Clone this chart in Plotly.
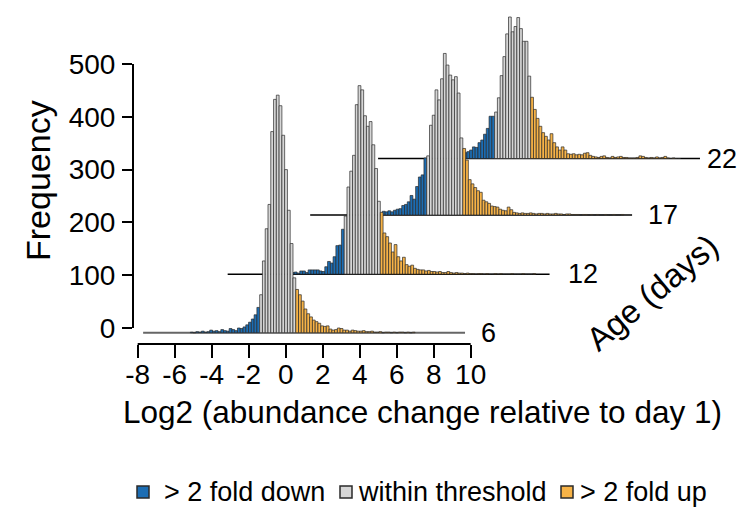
import plotly.graph_objects as go

# ---------------- data ----------------
days = ["6", "12", "17", "22"]
categories = ["> 2 fold down", "within threshold", "> 2 fold up"]
bin_width = 0.15  # log2 units

# counts per bin; "down" lists end at the -1 threshold, "up" lists start at +1
down_6 = [1, 0, 2, 1, 3, 1, 2, 5, 3, 4, 2, 6, 4, 3, 8, 6, 4, 9, 8, 11, 15, 20, 26, 34, 48]
within_6 = [72, 136, 197, 243, 381, 442, 450, 430, 374, 309, 232, 169, 104]
up_6 = [82, 72, 60, 45, 36, 30, 24, 21, 18, 13, 12, 13, 7, 5, 6, 9, 8, 5, 5, 3, 5, 4, 3, 3,
        4, 2, 2, 3, 1, 1, 2, 0, 1, 1, 0, 1, 0, 1, 1, 0, 1, 0, 1]

down_12 = [3, 4, 2, 6, 6, 3, 8, 8, 8, 8, 6, 5, 14, 24, 21, 33, 54, 55, 85]
within_12 = [110, 165, 195, 225, 321, 357, 349, 300, 280, 289, 245, 200, 138]
up_12 = [117, 78, 71, 59, 42, 56, 33, 25, 32, 18, 15, 17, 11, 9, 8, 8, 6, 7, 5, 5, 4, 5, 3, 3,
         5, 3, 2, 3, 2, 2, 1, 2, 1, 1, 0, 1, 1, 0, 1, 0, 0, 1, 0, 1, 0, 0, 0, 1, 0, 0, 0, 1,
         0, 0, 0, 1]

down_17 = [7, 6, 8, 6, 9, 11, 12, 18, 20, 25, 37, 30, 54, 72, 76, 108]
within_17 = [112, 170, 189, 237, 218, 258, 306, 284, 265, 256, 262, 231, 146]
up_17 = [126, 104, 67, 59, 52, 46, 43, 28, 25, 22, 17, 16, 15, 11, 9, 8, 15, 10, 5, 4, 3, 4,
         3, 3, 4, 3, 2, 3, 3, 2, 3, 2, 2, 3, 2, 2, 1, 2, 2, 1, 1, 1, 0, 1, 1, 0, 1, 0, 1, 0,
         0, 1, 0, 0, 1, 0, 0, 1]

down_22 = [11, 13, 16, 22, 21, 30, 35, 46, 57, 80, 80]
within_22 = [88, 115, 157, 193, 236, 268, 240, 250, 267, 246, 222, 222, 156]
up_22 = [116, 93, 76, 61, 49, 42, 35, 47, 30, 22, 16, 22, 16, 9, 8, 9, 7, 8, 7, 10, 11, 6, 4,
         3, 2, 4, 5, 2, 1, 4, 2, 3, 4, 2, 2, 1, 1, 1, 2, 5, 4, 2, 1, 2, 1, 3, 1, 2, 4, 1, 0,
         1, 0, 0]

x_ticks = [-8, -6, -4, -2, 0, 2, 4, 6, 8, 10]
x_tick_labels = ["-8", "-6", "-4", "-2", "0", "2", "4", "6", "8", "10"]
y_ticks = [0, 100, 200, 300, 400, 500]
y_tick_labels = ["0", "100", "200", "300", "400", "500"]

# ---------------- layout / styling ----------------
W, H = 741, 510
ML, MR, MT, MB = 133, 6, 10, 166
PX_PER_X = 18.5
X0_PX = 285.67
PX_PER_Y = 0.528
Y0_PX = 328.0

x_range = [(ML - X0_PX) / PX_PER_X, (W - MR - X0_PX) / PX_PER_X]
y_range = [(Y0_PX - (H - MB)) / PX_PER_Y, (Y0_PX - MT) / PX_PER_Y]

pw, ph = W - ML - MR, H - MT - MB


def px_x(px):
    return (px - ML) / pw


def px_y(py):
    return (H - MB - py) / ph


day_data = {
    "6": (down_6, within_6, up_6),
    "12": (down_12, within_12, up_12),
    "17": (down_17, within_17, up_17),
    "22": (down_22, within_22, up_22),
}
x_offset = {"6": -0.43, "12": 4.14, "17": 8.6, "22": 12.27}
baseline = {"6": -9, "12": 102, "17": 214, "22": 321}
label_px = {"6": 479, "12": 566, "17": 646, "22": 705}
span_lo, span_hi = -7.275, 10.125
colors = ["#1c6db3", "#d6d6d6", "#f7b347"]
edge = "#2a2a2a"
font_family = "Liberation Sans, Arial, Helvetica, sans-serif"

fig = go.Figure()
half = 6.5 * bin_width  # edge of within-threshold block
for d in ["22", "17", "12", "6"]:
    down, within, up = day_data[d]
    off = x_offset[d]
    groups = [
        [off - half - (len(down) - i - 0.5) * bin_width for i in range(len(down))],
        [off - half + (i + 0.5) * bin_width for i in range(len(within))],
        [off + half + (i + 0.5) * bin_width for i in range(len(up))],
    ]
    for xs, ys, col, name in zip(groups, (down, within, up), colors, categories):
        fig.add_trace(go.Bar(
            x=xs, y=ys, base=baseline[d], width=bin_width, name=name,
            marker=dict(color=col, line=dict(color=edge, width=0.7)),
            showlegend=False, hoverinfo="skip",
        ))

shapes = []
for d in days:
    off = x_offset[d]
    shapes.append(dict(
        type="line", layer="below", xref="x", yref="y",
        x0=off + span_lo, x1=off + span_hi, y0=baseline[d], y1=baseline[d],
        line=dict(color="#666666" if d == "6" else "#000000", width=2 if d == "6" else 1.5),
    ))
# offset axis lines
shapes.append(dict(type="line", xref="x", yref="paper", x0=x_ticks[0], x1=x_ticks[-1],
                   y0=0, y1=0, line=dict(color="black", width=2)))
shapes.append(dict(type="line", xref="paper", yref="y", x0=0, x1=0,
                   y0=y_ticks[0], y1=y_ticks[-1], line=dict(color="black", width=2)))

annotations = []
for d in days:
    annotations.append(dict(
        text=d, xref="paper", yref="y", x=px_x(label_px[d]), y=baseline[d],
        xanchor="left", yanchor="middle", showarrow=False,
        font=dict(size=27, color="black", family=font_family),
    ))
annotations.append(dict(text="Age (days)", xref="paper", yref="paper",
                        x=px_x(652), y=px_y(292), textangle=-40, showarrow=False,
                        xanchor="center", yanchor="middle",
                        font=dict(size=33, color="black", family=font_family)))
annotations.append(dict(text="Frequency", xref="paper", yref="paper",
                        x=px_x(38), y=px_y(181), textangle=-90, showarrow=False,
                        xanchor="center", yanchor="middle",
                        font=dict(size=34, color="black", family=font_family)))
annotations.append(dict(text="Log2 (abundance change relative to day 1)",
                        xref="paper", yref="paper", x=px_x(422), y=px_y(412),
                        showarrow=False, xanchor="center", yanchor="middle",
                        font=dict(size=31.5, color="black", family=font_family)))

# legend (drawn manually)
leg_sq = [137, 340, 561]
leg_tx = [162, 356, 578]
for sx, tx, col, name in zip(leg_sq, leg_tx, colors, categories):
    shapes.append(dict(type="rect", xref="paper", yref="paper",
                       x0=px_x(sx), x1=px_x(sx + 12), y0=px_y(498), y1=px_y(486),
                       fillcolor=col, line=dict(color=edge, width=1.5)))
    annotations.append(dict(text=name, xref="paper", yref="paper", x=px_x(tx), y=px_y(492),
                            xanchor="left", yanchor="middle", showarrow=False,
                            font=dict(size=27, color="black", family=font_family)))

fig.update_layout(
    width=W, height=H,
    margin=dict(l=ML, r=MR, t=MT, b=MB, pad=0),
    paper_bgcolor="white", plot_bgcolor="white",
    barmode="overlay", showlegend=False,
    shapes=shapes, annotations=annotations,
    font=dict(family=font_family, color="black"),
    xaxis=dict(range=x_range, tickmode="array", tickvals=x_ticks, ticktext=x_tick_labels,
               ticks="outside", ticklen=13, tickwidth=2, tickcolor="black",
               showline=False, showgrid=False, zeroline=False, ticklabelstandoff=-8,
               tickfont=dict(size=28, color="black", family=font_family)),
    yaxis=dict(range=y_range, tickmode="array", tickvals=y_ticks, ticktext=y_tick_labels,
               ticks="outside", ticklen=10, tickwidth=2, tickcolor="black",
               showline=False, showgrid=False, zeroline=False, ticklabelstandoff=1,
               tickfont=dict(size=28, color="black", family=font_family)),
)

fig.write_html("out.html")
